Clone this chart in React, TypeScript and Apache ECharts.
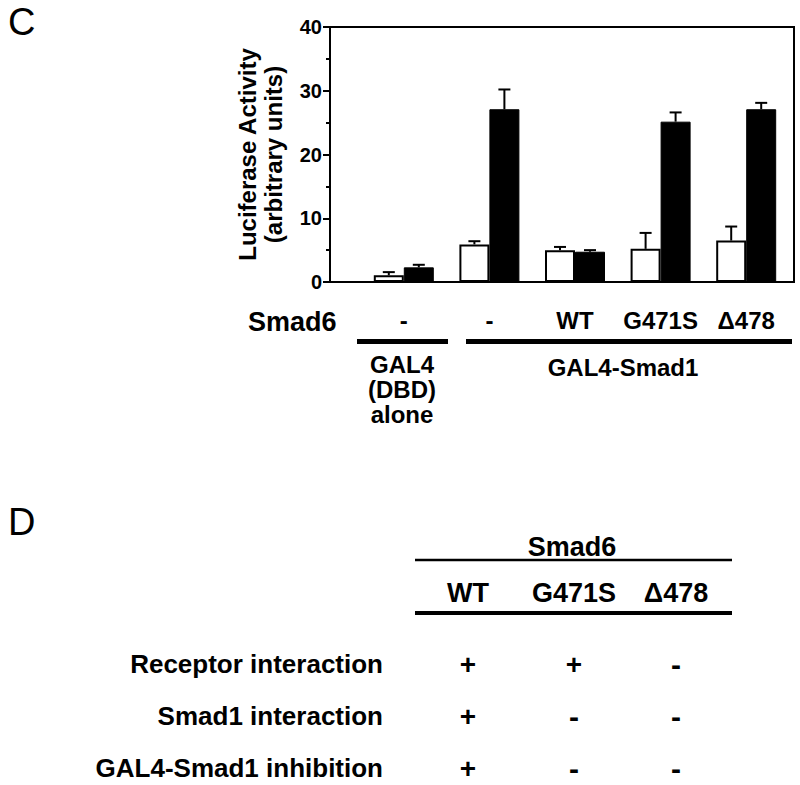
import React, { useEffect, useRef } from "react";
import * as echarts from "echarts";

// ---- data ----
const categories = ["-", "-", "WT", "G471S", "Δ478"];
const openValues = [1.05, 5.9, 5.0, 5.2, 6.5];
const openErrors = [0.5, 0.5, 0.5, 2.5, 2.2];
const filledValues = [2.3, 27.1, 4.75, 25.15, 27.1];
const filledErrors = [0.4, 3.1, 0.25, 1.45, 1.0];
const yMin = 0;
const yMax = 40;
const yStep = 10;
const rowHeaderLabel = "Smad6";
const constructLabels = ["GAL4\n(DBD)\nalone", "GAL4-Smad1"];
const tableHeader = "Smad6";
const tableColumns = ["WT", "G471S", "Δ478"];
const tableRows = ["Receptor interaction", "Smad1 interaction", "GAL4-Smad1 inhibition"];
const tableValues = [
  ["+", "+", "-"],
  ["+", "-", "-"],
  ["+", "-", "-"],
];

const FONT = '"Liberation Sans", Arial, Helvetica, sans-serif';
const BAR_W = 30;

function errorSeries(values: number[], errors: number[], offset: number) {
  return {
    type: "custom",
    xAxisIndex: 1,
    yAxisIndex: 1,
    z: 5,
    encode: { x: 0, y: 1 },
    data: values.map((v, i) => [i, v, errors[i]]),
    renderItem: (params: any, api: any) => {
      const i = api.value(0);
      const v = api.value(1);
      const e = api.value(2);
      const base = api.coord([i, v]);
      const top = api.coord([i, v + e]);
      const x = base[0] + offset;
      return {
        type: "group",
        children: [
          { type: "line", shape: { x1: x, y1: base[1], x2: x, y2: top[1] }, style: { stroke: "#000", lineWidth: 2 } },
          { type: "line", shape: { x1: x - 6, y1: top[1], x2: x + 6, y2: top[1] }, style: { stroke: "#000", lineWidth: 2 } },
        ],
      };
    },
  };
}

export default function App() {
  const ref = useRef<HTMLDivElement>(null);
  useEffect(() => {
    if (!ref.current) return;
    const chart = echarts.init(ref.current, null, { renderer: "svg" });
    const txt = (text: string, x: number, y: number, size: number, align = "center", weight = "bold", vAlign = "middle", lh?: number) => ({
      type: "text",
      x,
      y,
      style: {
        text,
        fill: "#000",
        font: `${weight} ${size}px ${FONT}`,
        fontSize: size,
        fontWeight: weight,
        fontFamily: FONT,
        align,
        verticalAlign: vAlign,
        lineHeight: lh,
      },
    });
    const ln = (x1: number, y1: number, x2: number, y2: number, w: number) => ({
      type: "line",
      shape: { x1, y1, x2, y2 },
      style: { stroke: "#000", lineWidth: w },
    });

    const colX = [468, 574, 676];
    const rowY = [664, 716, 768];
    const graphics: any[] = [
      txt("C", 8, 22, 38, "left", "normal"),
      txt(rowHeaderLabel, 248, 322, 27, "left"),
      ln(357, 341.5, 448, 341.5, 5),
      ln(466, 341.5, 792, 341.5, 5),
      txt(constructLabels[0], 402, 352, 24, "center", "bold", "top", 25),
      txt(constructLabels[1], 623, 367, 24),
      txt("D", 8, 522, 38, "left", "normal"),
      txt(tableHeader, 572, 547, 27),
      ln(415, 560, 732, 560, 2.5),
      ln(415, 613, 732, 613, 4),
    ];
    tableColumns.forEach((c, j) => graphics.push(txt(c, colX[j], 593, 27)));
    tableRows.forEach((r, i) => {
      graphics.push(txt(r, 383, rowY[i], 26, "right"));
      tableValues[i].forEach((v, j) => graphics.push(txt(v, colX[j], rowY[i], v === "-" ? 30 : 28)));
    });

    chart.setOption({
      animation: false,
      textStyle: { fontFamily: FONT },
      grid: [
        { left: 330, right: 6, top: 27, bottom: 503, show: true, borderColor: "#000", borderWidth: 2, backgroundColor: "transparent" },
        { left: 361, right: 11, top: 27, bottom: 503 },
      ],
      xAxis: [
        { gridIndex: 0, type: "value", show: false, min: 0, max: 1 },
        {
          gridIndex: 1,
          type: "category",
          data: categories,
          axisLine: { show: false },
          axisTick: { show: false },
          axisLabel: { color: "#000", fontSize: 24, fontWeight: "bold", fontFamily: FONT, margin: 26, interval: 0 },
        },
      ],
      yAxis: [
        {
          gridIndex: 0,
          type: "value",
          min: yMin,
          max: yMax,
          interval: yStep,
          splitLine: { show: false },
          axisLine: { show: true, lineStyle: { color: "#000", width: 2 } },
          axisTick: { show: true, length: 7, lineStyle: { color: "#000", width: 2 } },
          minorTick: { show: true, splitNumber: 2, length: 4, lineStyle: { color: "#000", width: 2 } },
          axisLabel: { color: "#000", fontSize: 20, fontWeight: "bold", fontFamily: FONT, margin: 8 },
          name: "Luciferase Activity\n(arbitrary units)",
          nameLocation: "middle",
          nameRotate: 90,
          nameGap: 44,
          nameTextStyle: { color: "#000", fontSize: 24, fontWeight: "bold", fontFamily: FONT, lineHeight: 26 },
        },
        { gridIndex: 1, type: "value", min: yMin, max: yMax, show: false, splitLine: { show: false } },
      ],
      series: [
        {
          name: "open",
          type: "bar",
          xAxisIndex: 1,
          yAxisIndex: 1,
          data: openValues,
          barWidth: BAR_W,
          barGap: "0%",
          itemStyle: { color: "#fff", borderColor: "#000", borderWidth: 2 },
        },
        {
          name: "filled",
          type: "bar",
          xAxisIndex: 1,
          yAxisIndex: 1,
          data: filledValues,
          barWidth: BAR_W,
          barGap: "0%",
          itemStyle: { color: "#000", borderColor: "#000", borderWidth: 1 },
        },
        errorSeries(openValues, openErrors, -BAR_W / 2),
        errorSeries(filledValues, filledErrors, BAR_W / 2),
      ],
      graphic: graphics,
    });
    return () => chart.dispose();
  }, []);
  return <div ref={ref} style={{ position: "fixed", left: 0, top: 0, width: 800, height: 785, background: "#fff" }} />;
}
